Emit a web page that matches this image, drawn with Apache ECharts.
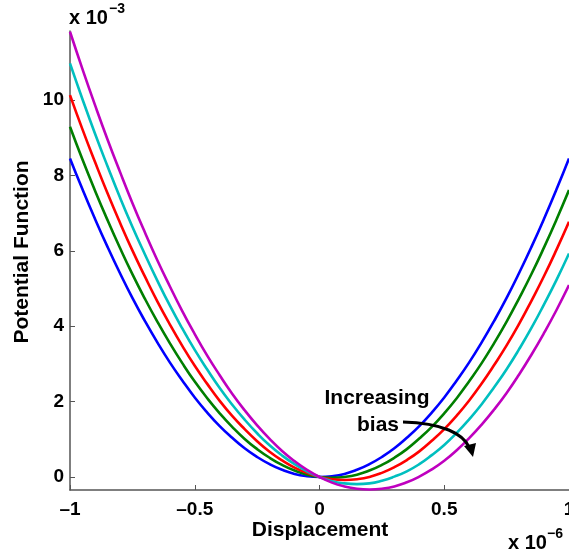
<!DOCTYPE html>
<html>
<head>
<meta charset="utf-8">
<script src="https://cdn.jsdelivr.net/npm/echarts@6/dist/echarts.min.js"></script>
<style>html,body{margin:0;padding:0;background:#fff;}#chart{width:569px;height:559px;}</style>
</head>
<body>
<div id="chart"></div>
<script>
// Displacement (x 10^-6)
var xs = [-1,-0.95,-0.9,-0.85,-0.8,-0.75,-0.7,-0.65,-0.6,-0.55,-0.5,-0.45,-0.4,-0.35,-0.3,-0.25,-0.2,-0.15,-0.1,-0.05,0,
          0.05,0.1,0.15,0.2,0.25,0.3,0.35,0.4,0.45,0.5,0.55,0.6,0.65,0.7,0.75,0.8,0.85,0.9,0.95,1];
// Potential function (x 10^-3), one array per bias level
var blue = [8.45,7.63,6.85,6.11,5.41,4.75,4.14,3.57,3.04,2.56,2.11,1.71,1.35,1.04,0.76,0.53,0.34,0.19,0.08,0.02,0,
            0.02,0.08,0.19,0.34,0.53,0.76,1.04,1.35,1.71,2.11,2.56,3.04,3.57,4.14,4.75,5.41,6.11,6.85,7.63,8.45];
var green = [9.29,8.42,7.60,6.82,6.08,5.38,4.73,4.12,3.55,3.02,2.53,2.09,1.69,1.33,1.01,0.74,0.51,0.32,0.17,0.06,0,
             -0.02,0.00,0.06,0.17,0.32,0.51,0.74,1.02,1.33,1.69,2.09,2.54,3.02,3.55,4.12,4.74,5.39,6.09,6.83,7.61];
var red = [10.13,9.22,8.36,7.53,6.75,6.01,5.32,4.66,4.05,3.48,2.95,2.47,2.02,1.62,1.27,0.95,0.67,0.44,0.25,0.11,0,
           -0.06,-0.08,-0.06,0.00,0.11,0.26,0.45,0.68,0.96,1.27,1.63,2.03,2.48,2.97,3.49,4.06,4.68,5.33,6.03,6.77];
var cyan = [10.97,10.02,9.11,8.25,7.42,6.64,5.91,5.21,4.55,3.94,3.37,2.85,2.36,1.92,1.52,1.16,0.84,0.57,0.34,0.15,0,
            -0.11,-0.17,-0.19,-0.17,-0.10,0.01,0.15,0.34,0.58,0.85,1.17,1.53,1.93,2.38,2.86,3.39,3.96,4.58,5.23,5.93];
var magenta = [11.81,10.82,9.87,8.96,8.10,7.27,6.49,5.75,5.06,4.40,3.79,3.22,2.70,2.21,1.77,1.37,1.01,0.69,0.42,0.19,0,
               -0.15,-0.25,-0.31,-0.33,-0.31,-0.25,-0.14,0.01,0.20,0.43,0.71,1.03,1.39,1.79,2.23,2.72,3.25,3.82,4.43,5.09];
var yTicks = [0,2,4,6,8,10];
var xTicks = [-1,-0.5,0,0.5,1];

var seriesData = [blue, green, red, cyan, magenta];
var colors = ['#0000ff','#007f00','#ff0000','#00bfbf','#bf00bf'];

var FONT = '"Liberation Sans", Arial, Helvetica, sans-serif';
function fmt(v){ var s = String(Math.abs(v)); return v < 0 ? '\u2013' + s : s; }

var chart = echarts.init(document.getElementById('chart'), null, {renderer:'canvas'});
var series = seriesData.map(function(arr, i){
  return {
    type:'line', smooth:true, showSymbol:false, animation:false,
    data: xs.map(function(x, j){ return [x, arr[j]]; }),
    lineStyle:{color:colors[i], width:2.6}, itemStyle:{color:colors[i]},
    z: 2 + i
  };
});

function txt(x, y, s, size, extra){
  var o = {type:'text', x:x, y:y, z:10, style:{text:s, fontFamily:FONT, fontWeight:'bold', fontSize:size, fill:'#000', align:'left', verticalAlign:'middle'}};
  if (extra) for (var k in extra) o.style[k] = extra[k];
  return o;
}

chart.setOption({
  animation:false,
  backgroundColor:'#ffffff',
  grid:{left:70, right:0, top:31, bottom:69, containLabel:false, outerBoundsMode:'none'},
  xAxis:{
    type:'value', min:-1, max:1, interval:0.5,
    axisLine:{show:true, onZero:false, lineStyle:{color:'#555', width:1.5}},
    axisTick:{show:true, inside:true, length:5, lineStyle:{color:'#555'}, customValues:xTicks},
    axisLabel:{fontFamily:FONT, fontWeight:'bold', fontSize:19, color:'#000', margin:10, formatter:fmt, customValues:xTicks, showMinLabel:true, showMaxLabel:true, hideOverlap:false},
    splitLine:{show:false}
  },
  yAxis:{
    type:'value', min:-0.345, max:11.83,
    axisLine:{show:true, onZero:false, lineStyle:{color:'#555', width:1.5}},
    axisTick:{show:true, inside:true, length:5, lineStyle:{color:'#555'}, customValues:yTicks},
    axisLabel:{fontFamily:FONT, fontWeight:'bold', fontSize:19, color:'#000', margin:6, formatter:fmt, customValues:yTicks},
    splitLine:{show:false}
  },
  series: series,
  graphic:[
    txt(69, 18, 'x 10', 20),
    txt(109, 9, '\u22123', 14),
    txt(508, 543, 'x 10', 20),
    txt(547, 534, '\u22126', 14),
    txt(320, 530, 'Displacement', 21, {align:'center'}),
    {type:'text', x:22, y:252, rotation:Math.PI/2, z:10, style:{text:'Potential Function', fontFamily:FONT, fontWeight:'bold', fontSize:21, fill:'#000', align:'center', verticalAlign:'middle'}},
    txt(377, 398, 'Increasing', 21, {align:'center'}),
    txt(378, 425, 'bias', 21, {align:'center'}),
    {type:'bezierCurve', z:10, shape:{x1:403,y1:422, cpx1:443,cpy1:423, cpx2:463,cpy2:434, x2:469,y2:447}, style:{stroke:'#000', lineWidth:3, fill:null}},
    {type:'polygon', z:10, shape:{points:[[473,457],[464,446],[476,443]]}, style:{fill:'#000'}}
  ]
});
</script>
</body>
</html>
